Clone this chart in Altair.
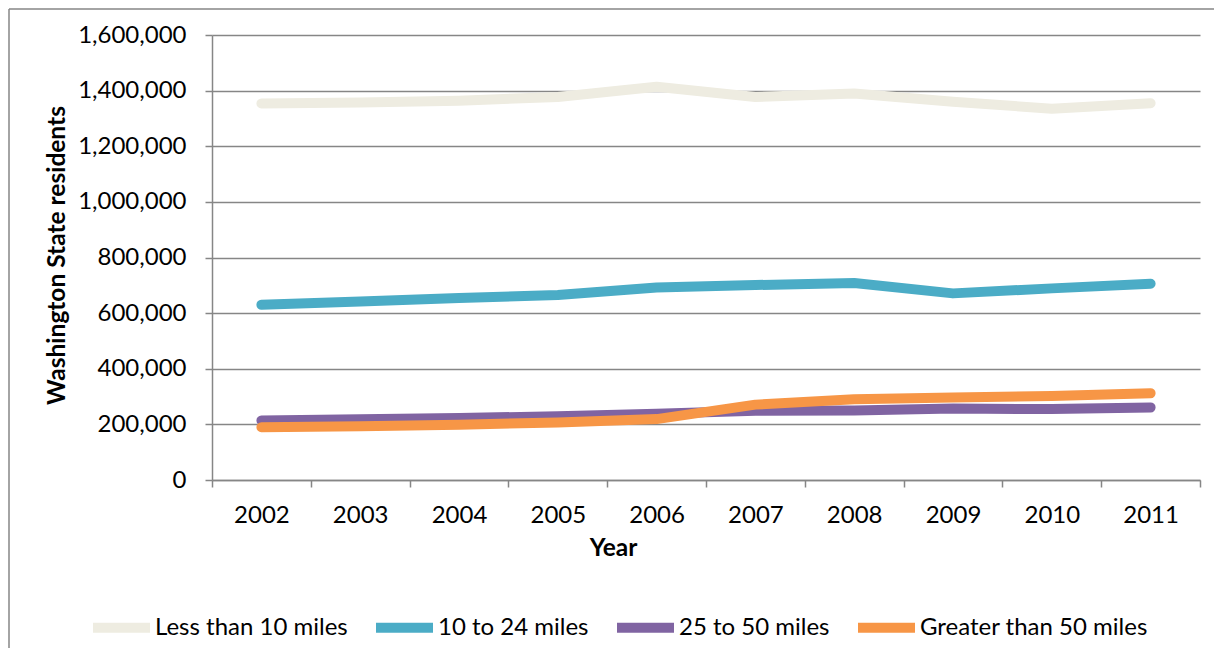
import altair as alt
import pandas as pd

years = ["2002", "2003", "2004", "2005", "2006", "2007", "2008", "2009", "2010", "2011"]
series_names = ["Less than 10 miles", "10 to 24 miles", "25 to 50 miles", "Greater than 50 miles"]
lt10 = [1354000, 1357000, 1364000, 1377000, 1414000, 1377000, 1390000, 1360000, 1335000, 1355000]
b10_24 = [630000, 642000, 654000, 665000, 692000, 701000, 708000, 671000, 689000, 706000]
b25_50 = [214000, 218000, 223000, 229000, 238000, 249000, 250000, 257000, 255000, 261000]
gt50 = [190000, 193000, 199000, 207000, 219000, 271000, 290000, 297000, 302000, 312000]
colors = ["#EEECE1", "#4BACC6", "#8064A2", "#F79646"]

rows = []
for name, vals in zip(series_names, [lt10, b10_24, b25_50, gt50]):
    for y, v in zip(years, vals):
        rows.append({"Year": y, "Series": name, "Value": v})
df = pd.DataFrame(rows)

FONT = "Lato"
GRID = "#868686"
FS = 24

lines = alt.Chart(df).mark_line(strokeWidth=10, strokeCap="round", strokeJoin="round").encode(
    x=alt.X("Year:N", sort=years, bandPosition=0.5,
            scale=alt.Scale(type="band", paddingInner=0, paddingOuter=0),
            axis=alt.Axis(title="Year", labelAngle=0, tickBand="extent", ticks=True, tickSize=7,
                          labelPadding=16, titleX=401, titleY=68, titleBaseline="middle",
                          titleAlign="center", grid=False)),
    y=alt.Y("Value:Q", scale=alt.Scale(domain=[0, 1600000], nice=False),
            axis=alt.Axis(title="Washington State residents", format=",d",
                          values=list(range(0, 1600001, 200000)), tickSize=7, labelPadding=19,
                          titleX=-155, titleY=220, titleAngle=-90, titleAlign="center",
                          titleBaseline="middle", grid=True)),
    color=alt.Color("Series:N", sort=series_names,
                    scale=alt.Scale(domain=series_names, range=colors),
                    legend=alt.Legend(title=None, orient="none", direction="horizontal",
                                      legendX=-124, legendY=559, symbolType="stroke",
                                      symbolSize=3249, symbolStrokeWidth=10, labelOffset=0,
                                      columnPadding=8, labelFontSize=FS, labelFont=FONT,
                                      labelLimit=0, labelColor="#000000", symbolOpacity=1)),
    order=alt.Order("order:Q"),
).transform_calculate(
    order="indexof(" + str(series_names) + ", datum.Series)"
)

one = pd.DataFrame({"a": [0]})
top_frame = alt.Chart(one).mark_rule(color=GRID, strokeWidth=1.5).encode(
    x=alt.value(-203), x2=alt.value(1030), y=alt.value(-26), y2=alt.value(-26))
left_frame = alt.Chart(one).mark_rule(color=GRID, strokeWidth=1.5).encode(
    x=alt.value(-203), x2=alt.value(-203), y=alt.value(-26), y2=alt.value(700))

chart = alt.layer(top_frame, left_frame, lines).properties(
    width=988, height=445,
    autosize=alt.AutoSizeParams(type="none"),
    padding={"left": 204, "top": 27, "right": 14, "bottom": 168},
).configure_view(stroke=None).configure_axis(
    labelFont=FONT, labelFontSize=FS, labelColor="#000000",
    titleFont=FONT, titleFontSize=24.5, titleFontWeight="bold", titleColor="#000000",
    domainColor=GRID, domainWidth=1.5, tickColor=GRID, tickWidth=1.5,
    gridColor=GRID, gridWidth=1.5, gridOpacity=1,
)

chart.save("out.html", embed_options={"renderer": "svg", "actions": False})
